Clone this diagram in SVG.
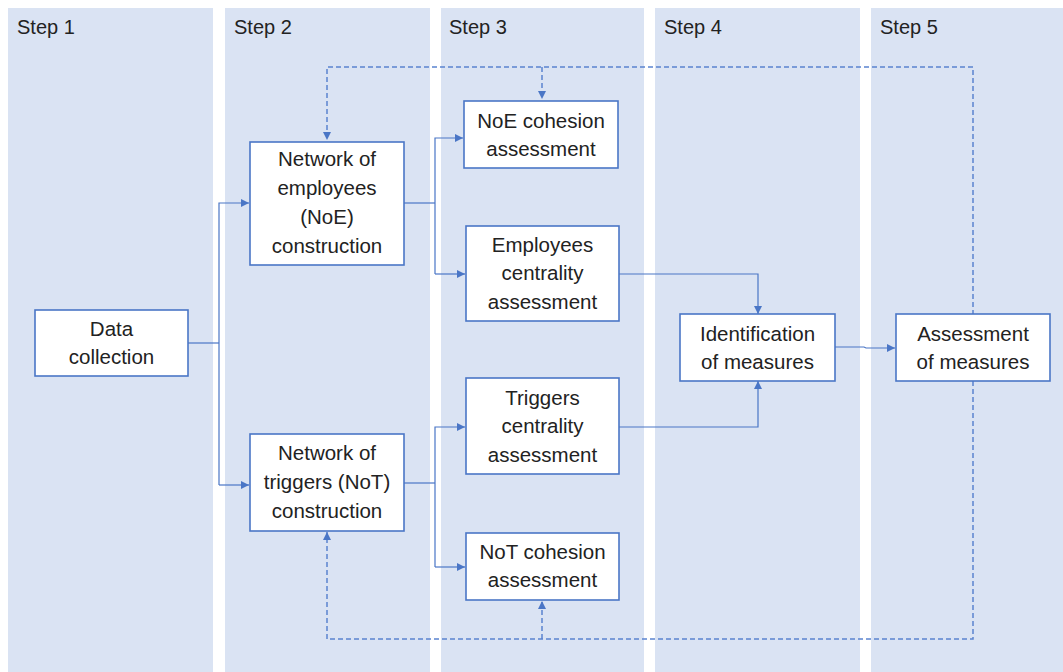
<svg xmlns="http://www.w3.org/2000/svg" width="1063" height="672" viewBox="0 0 1063 672">
<style>
.col{fill:#dae3f3}
.step{font-family:"Liberation Sans",Arial,sans-serif;font-size:20px;fill:#222}
.box{fill:#fff;stroke:#4a76c6;stroke-width:1.6}
.t{font-family:"Liberation Sans",Arial,sans-serif;font-size:20.5px;fill:#222;text-anchor:middle}
.c{fill:none;stroke:#4a76c6;stroke-width:1.2}
.d{fill:none;stroke:#5b84d0;stroke-width:1.5;stroke-dasharray:5 3}
</style>
<defs>
<marker id="ah" viewBox="0 0 10 10" refX="10" refY="5" markerWidth="8" markerHeight="8" markerUnits="userSpaceOnUse" orient="auto">
<path d="M0,0 L10,5 L0,10 z" fill="#4a76c6"/>
</marker>
</defs>
<rect width="1063" height="672" fill="#fff"/>
<g id="columns">
<rect class="col" x="8" y="8" width="205" height="664"/>
<rect class="col" x="225" y="8" width="205" height="664"/>
<rect class="col" x="441" y="8" width="203" height="664"/>
<rect class="col" x="655" y="8" width="205" height="664"/>
<rect class="col" x="871" y="8" width="192" height="664"/>
<text class="step" x="17" y="34">Step 1</text>
<text class="step" x="234" y="34">Step 2</text>
<text class="step" x="449" y="34">Step 3</text>
<text class="step" x="664" y="34">Step 4</text>
<text class="step" x="880" y="34">Step 5</text>
</g>
<g id="connectors">
<path class="d" d="M973,315 V67 H327 V140" marker-end="url(#ah)"/>
<path class="d" d="M542,67 V99" marker-end="url(#ah)"/>
<path class="d" d="M973,381 V639 H327 V532" marker-end="url(#ah)"/>
<path class="d" d="M542,639 V601" marker-end="url(#ah)"/>
<path class="c" d="M188,343 H219"/>
<path class="c" d="M219,485 V203 H249" marker-end="url(#ah)"/>
<path class="c" d="M219,485 H249" marker-end="url(#ah)"/>
<path class="c" d="M404,203 H435"/>
<path class="c" d="M435,274 V138 H463" marker-end="url(#ah)"/>
<path class="c" d="M435,274 H465" marker-end="url(#ah)"/>
<path class="c" d="M404,483 H435"/>
<path class="c" d="M435,567 V427 H465" marker-end="url(#ah)"/>
<path class="c" d="M435,567 H465" marker-end="url(#ah)"/>
<path class="c" d="M619,274 H758 V314" marker-end="url(#ah)"/>
<path class="c" d="M619,427 H758 V381" marker-end="url(#ah)"/>
<path class="c" d="M835,347 H864 L866,348 H895" marker-end="url(#ah)"/>
</g>
<g id="data-collection">
<rect class="box" x="35" y="310" width="153" height="66"/>
<text class="t" x="111.5" y="336">Data</text>
<text class="t" x="111.5" y="364">collection</text>
</g>
<g id="noe-construction">
<rect class="box" x="250" y="142" width="154" height="123"/>
<text class="t" x="327" y="166">Network of</text>
<text class="t" x="327" y="195">employees</text>
<text class="t" x="327" y="224">(NoE)</text>
<text class="t" x="327" y="253">construction</text>
</g>
<g id="not-construction">
<rect class="box" x="250" y="434" width="154" height="97"/>
<text class="t" x="327" y="460">Network of</text>
<text class="t" x="327" y="489">triggers (NoT)</text>
<text class="t" x="327" y="518">construction</text>
</g>
<g id="noe-cohesion">
<rect class="box" x="464" y="101" width="154" height="67"/>
<text class="t" x="541" y="128">NoE cohesion</text>
<text class="t" x="541" y="156">assessment</text>
</g>
<g id="employees-centrality">
<rect class="box" x="466" y="226" width="153" height="95"/>
<text class="t" x="542.5" y="252">Employees</text>
<text class="t" x="542.5" y="280">centrality</text>
<text class="t" x="542.5" y="309">assessment</text>
</g>
<g id="triggers-centrality">
<rect class="box" x="466" y="378" width="153" height="96"/>
<text class="t" x="542.5" y="405">Triggers</text>
<text class="t" x="542.5" y="433">centrality</text>
<text class="t" x="542.5" y="462">assessment</text>
</g>
<g id="not-cohesion">
<rect class="box" x="466" y="533" width="153" height="67"/>
<text class="t" x="542.5" y="559">NoT cohesion</text>
<text class="t" x="542.5" y="587">assessment</text>
</g>
<g id="identification">
<rect class="box" x="680" y="314" width="155" height="67"/>
<text class="t" x="757.5" y="341">Identification</text>
<text class="t" x="757.5" y="369">of measures</text>
</g>
<g id="assessment">
<rect class="box" x="896" y="314" width="154" height="67"/>
<text class="t" x="973" y="341">Assessment</text>
<text class="t" x="973" y="369">of measures</text>
</g>
</svg>
